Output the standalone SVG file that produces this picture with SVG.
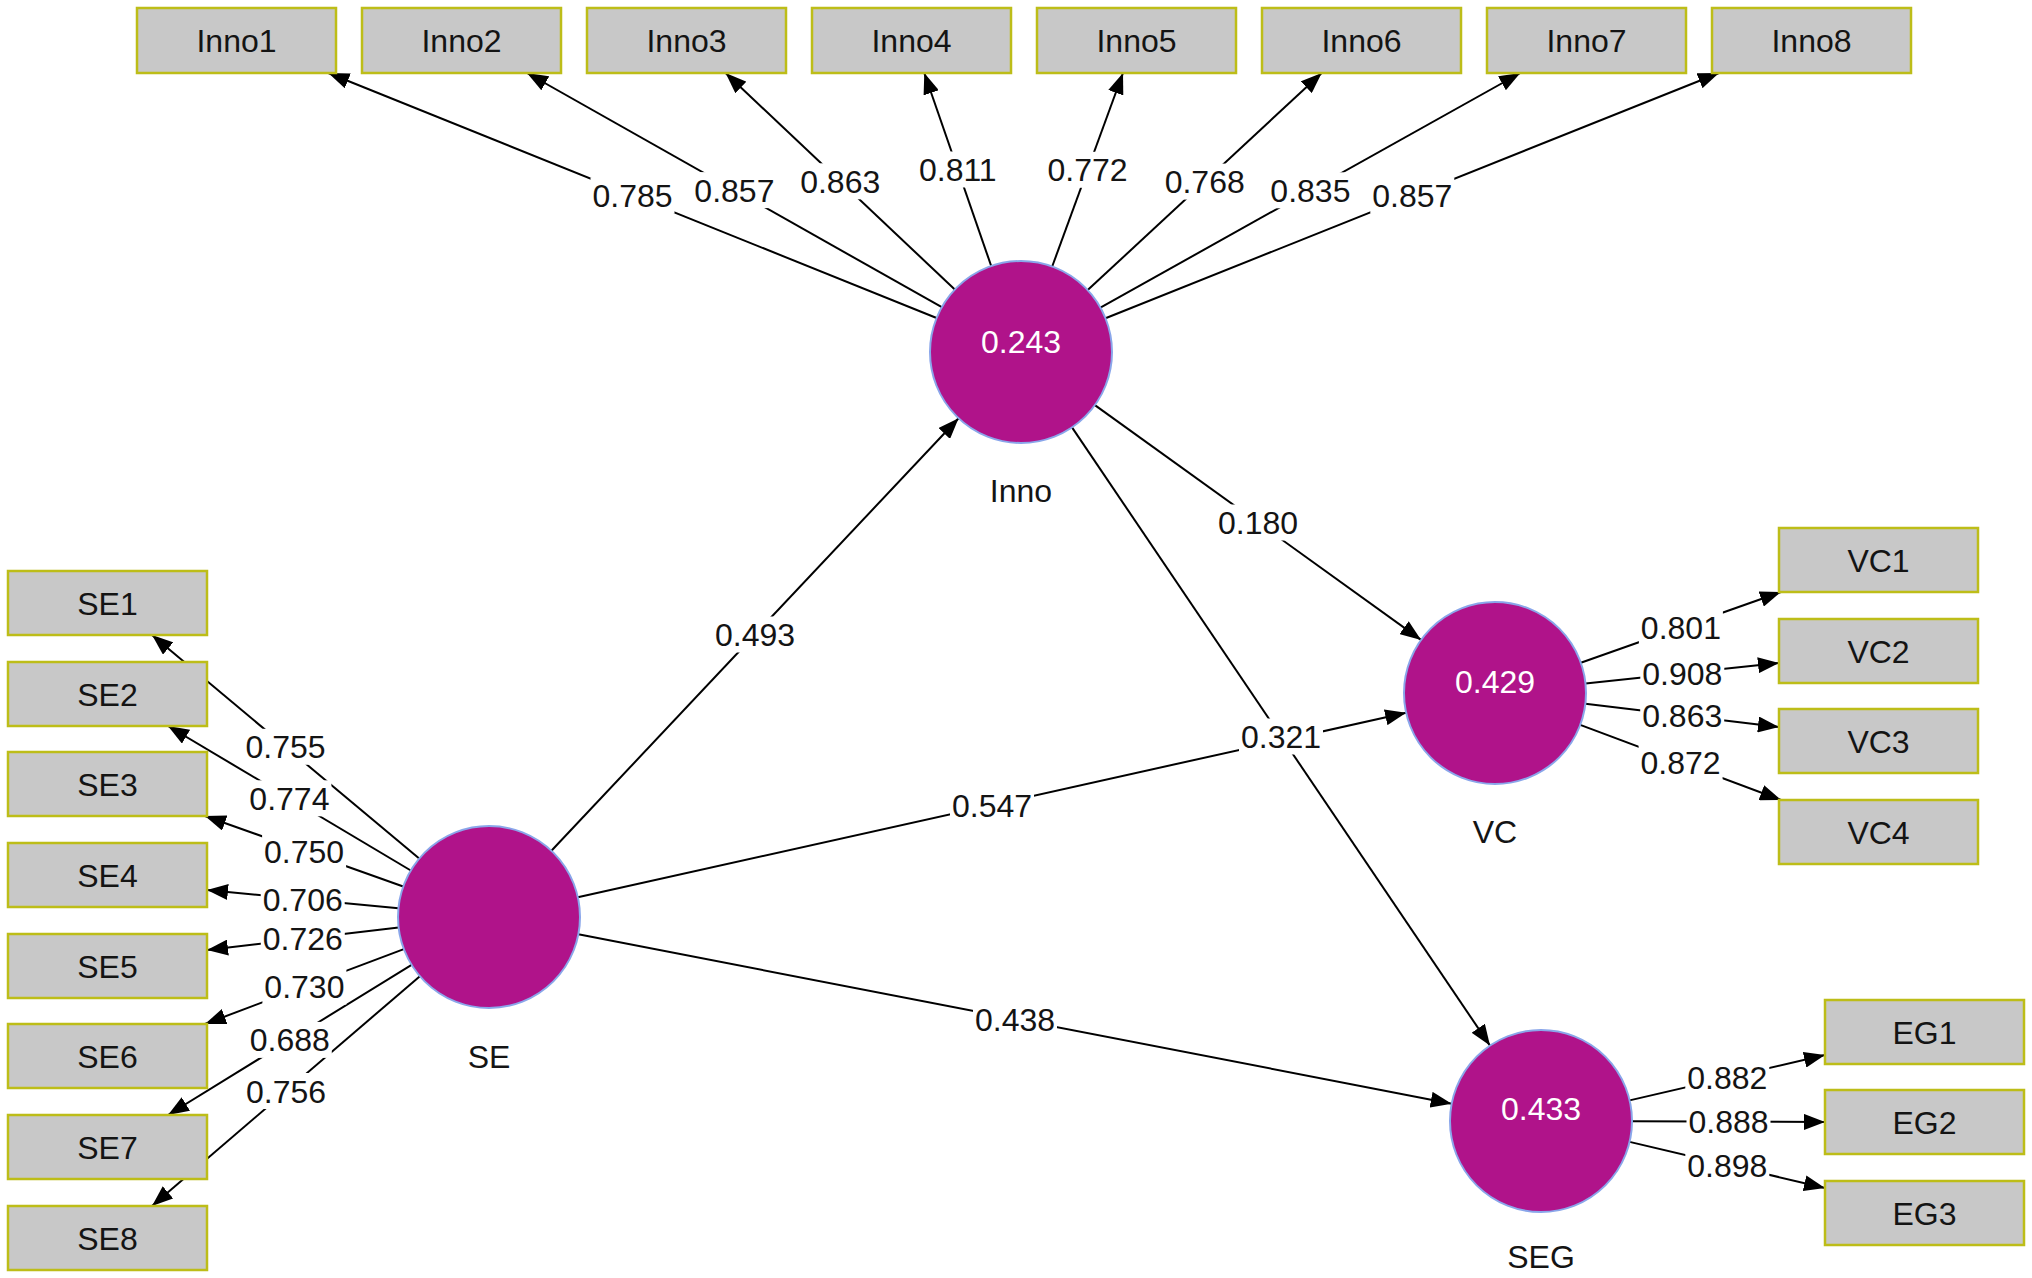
<svg xmlns="http://www.w3.org/2000/svg" width="2032" height="1278" viewBox="0 0 2032 1278">
<style>
.box{fill:#c8c8c8;stroke:#bdbd18;stroke-width:2.5}
.lv{fill:#b0138a;stroke:#8aa6ea;stroke-width:2}
.t{font-family:"Liberation Sans Narrow","Liberation Sans",Arial,sans-serif;font-size:32px;text-anchor:middle;fill:#141414}
.v{fill:#ffffff}
.c{stroke:#000;stroke-width:2;fill:none;marker-end:url(#ah)}
.bg{fill:#ffffff}
</style>
<defs>
<marker id="ah" markerUnits="userSpaceOnUse" markerWidth="21" markerHeight="16" viewBox="0 0 21 16" refX="21" refY="8" orient="auto"><path d="M0,0 L21,8 L0,16 z" fill="#000"/></marker>
</defs>
<rect width="2032" height="1278" fill="#ffffff"/>
<g id="connectors">
<path class="c" d="M936.6,318 L328.3,73"/>
<path class="c" d="M941.8,307.2 L527,73"/>
<path class="c" d="M954.8,289.5 L725.6,73"/>
<path class="c" d="M991.2,266 L924.3,73"/>
<path class="c" d="M1052.2,266.5 L1123,73"/>
<path class="c" d="M1087.7,290.1 L1321.7,73"/>
<path class="c" d="M1100.4,307.6 L1520.3,73"/>
<path class="c" d="M1105.5,318.2 L1719,73"/>
<path class="c" d="M419.2,858.6 L152,635"/>
<path class="c" d="M410.8,870.5 L168,726"/>
<path class="c" d="M403.2,886.5 L205,816"/>
<path class="c" d="M398.4,908.3 L207,890"/>
<path class="c" d="M398.6,927.6 L207,950"/>
<path class="c" d="M403.8,949.1 L205,1024"/>
<path class="c" d="M411.6,964.8 L168,1115"/>
<path class="c" d="M419.9,976.2 L152,1206"/>
<path class="c" d="M1580.8,662.7 L1781,592"/>
<path class="c" d="M1585.5,683.4 L1779,663"/>
<path class="c" d="M1585.4,703.8 L1779,727"/>
<path class="c" d="M1580.2,724.9 L1781,800"/>
<path class="c" d="M1629.6,1100.4 L1825,1055"/>
<path class="c" d="M1632,1121.3 L1825,1122"/>
<path class="c" d="M1629.6,1141.9 L1825,1188"/>
<path class="c" d="M551.4,850.8 L958.6,418.2"/>
<path class="c" d="M577.8,897.2 L1406.2,712.8"/>
<path class="c" d="M578.3,934.3 L1451.7,1103.7"/>
<path class="c" d="M1094.9,405.1 L1421.1,639.9"/>
<path class="c" d="M1072,427.4 L1490,1045.6"/>
</g>
<g id="connector-labels">
<rect class="bg" x="590.5" y="177.5" width="84" height="36"/><text class="t" x="632.5" y="207">0.785</text>
<rect class="bg" x="692.4" y="172.1" width="84" height="36"/><text class="t" x="734.4" y="201.6">0.857</text>
<rect class="bg" x="798.2" y="163.3" width="84" height="36"/><text class="t" x="840.2" y="192.8">0.863</text>
<rect class="bg" x="915.8" y="151.5" width="84" height="36"/><text class="t" x="957.8" y="181">0.811</text>
<rect class="bg" x="1045.6" y="151.8" width="84" height="36"/><text class="t" x="1087.6" y="181.3">0.772</text>
<rect class="bg" x="1162.7" y="163.6" width="84" height="36"/><text class="t" x="1204.7" y="193.1">0.768</text>
<rect class="bg" x="1268.4" y="172.3" width="84" height="36"/><text class="t" x="1310.4" y="201.8">0.835</text>
<rect class="bg" x="1370.3" y="177.6" width="84" height="36"/><text class="t" x="1412.3" y="207.1">0.857</text>
<rect class="bg" x="243.6" y="728.8" width="84" height="36"/><text class="t" x="285.6" y="758.3">0.755</text>
<rect class="bg" x="247.4" y="780.3" width="84" height="36"/><text class="t" x="289.4" y="809.8">0.774</text>
<rect class="bg" x="262.1" y="833.3" width="84" height="36"/><text class="t" x="304.1" y="862.8">0.750</text>
<rect class="bg" x="260.7" y="881.2" width="84" height="36"/><text class="t" x="302.7" y="910.7">0.706</text>
<rect class="bg" x="260.8" y="920.8" width="84" height="36"/><text class="t" x="302.8" y="950.3">0.726</text>
<rect class="bg" x="262.4" y="968.6" width="84" height="36"/><text class="t" x="304.4" y="998.1">0.730</text>
<rect class="bg" x="247.8" y="1021.9" width="84" height="36"/><text class="t" x="289.8" y="1051.4">0.688</text>
<rect class="bg" x="244" y="1073" width="84" height="36"/><text class="t" x="286" y="1102.5">0.756</text>
<rect class="bg" x="1638.9" y="609.4" width="84" height="36"/><text class="t" x="1680.9" y="638.9">0.801</text>
<rect class="bg" x="1640.3" y="655.2" width="84" height="36"/><text class="t" x="1682.3" y="684.7">0.908</text>
<rect class="bg" x="1640.2" y="697.4" width="84" height="36"/><text class="t" x="1682.2" y="726.9">0.863</text>
<rect class="bg" x="1638.6" y="744.5" width="84" height="36"/><text class="t" x="1680.6" y="774">0.872</text>
<rect class="bg" x="1685.3" y="1059.7" width="84" height="36"/><text class="t" x="1727.3" y="1089.2">0.882</text>
<rect class="bg" x="1686.5" y="1103.7" width="84" height="36"/><text class="t" x="1728.5" y="1133.2">0.888</text>
<rect class="bg" x="1685.3" y="1147" width="84" height="36"/><text class="t" x="1727.3" y="1176.5">0.898</text>
<rect class="bg" x="713" y="616.5" width="84" height="36"/><text class="t" x="755" y="646">0.493</text>
<rect class="bg" x="950" y="787" width="84" height="36"/><text class="t" x="992" y="816.5">0.547</text>
<rect class="bg" x="973" y="1001" width="84" height="36"/><text class="t" x="1015" y="1030.5">0.438</text>
<rect class="bg" x="1216" y="504.5" width="84" height="36"/><text class="t" x="1258" y="534">0.180</text>
<rect class="bg" x="1239" y="718.5" width="84" height="36"/><text class="t" x="1281" y="748">0.321</text>
</g>
<g id="Inno"><circle class="lv" cx="1021" cy="352" r="91"/><text class="t v" x="1021" y="353">0.243</text><text class="t" x="1021" y="502">Inno</text></g>
<g id="SE"><circle class="lv" cx="489" cy="917" r="91"/><text class="t" x="489" y="1068">SE</text></g>
<g id="VC"><circle class="lv" cx="1495" cy="693" r="91"/><text class="t v" x="1495" y="693">0.429</text><text class="t" x="1495" y="843">VC</text></g>
<g id="SEG"><circle class="lv" cx="1541" cy="1121" r="91"/><text class="t v" x="1541" y="1120">0.433</text><text class="t" x="1541" y="1268">SEG</text></g>
<g id="Inno1"><rect class="box" x="137" y="8" width="199" height="65"/><text class="t" x="236.5" y="52">Inno1</text></g>
<g id="Inno2"><rect class="box" x="362" y="8" width="199" height="65"/><text class="t" x="461.5" y="52">Inno2</text></g>
<g id="Inno3"><rect class="box" x="587" y="8" width="199" height="65"/><text class="t" x="686.5" y="52">Inno3</text></g>
<g id="Inno4"><rect class="box" x="812" y="8" width="199" height="65"/><text class="t" x="911.5" y="52">Inno4</text></g>
<g id="Inno5"><rect class="box" x="1037" y="8" width="199" height="65"/><text class="t" x="1136.5" y="52">Inno5</text></g>
<g id="Inno6"><rect class="box" x="1262" y="8" width="199" height="65"/><text class="t" x="1361.5" y="52">Inno6</text></g>
<g id="Inno7"><rect class="box" x="1487" y="8" width="199" height="65"/><text class="t" x="1586.5" y="52">Inno7</text></g>
<g id="Inno8"><rect class="box" x="1712" y="8" width="199" height="65"/><text class="t" x="1811.5" y="52">Inno8</text></g>
<g id="SE1"><rect class="box" x="8" y="571" width="199" height="64"/><text class="t" x="107.5" y="614.5">SE1</text></g>
<g id="SE2"><rect class="box" x="8" y="662" width="199" height="64"/><text class="t" x="107.5" y="705.5">SE2</text></g>
<g id="SE3"><rect class="box" x="8" y="752" width="199" height="64"/><text class="t" x="107.5" y="795.5">SE3</text></g>
<g id="SE4"><rect class="box" x="8" y="843" width="199" height="64"/><text class="t" x="107.5" y="886.5">SE4</text></g>
<g id="SE5"><rect class="box" x="8" y="934" width="199" height="64"/><text class="t" x="107.5" y="977.5">SE5</text></g>
<g id="SE6"><rect class="box" x="8" y="1024" width="199" height="64"/><text class="t" x="107.5" y="1067.5">SE6</text></g>
<g id="SE7"><rect class="box" x="8" y="1115" width="199" height="64"/><text class="t" x="107.5" y="1158.5">SE7</text></g>
<g id="SE8"><rect class="box" x="8" y="1206" width="199" height="64"/><text class="t" x="107.5" y="1249.5">SE8</text></g>
<g id="VC1"><rect class="box" x="1779" y="528" width="199" height="64"/><text class="t" x="1878.5" y="571.5">VC1</text></g>
<g id="VC2"><rect class="box" x="1779" y="619" width="199" height="64"/><text class="t" x="1878.5" y="662.5">VC2</text></g>
<g id="VC3"><rect class="box" x="1779" y="709" width="199" height="64"/><text class="t" x="1878.5" y="752.5">VC3</text></g>
<g id="VC4"><rect class="box" x="1779" y="800" width="199" height="64"/><text class="t" x="1878.5" y="843.5">VC4</text></g>
<g id="EG1"><rect class="box" x="1825" y="1000" width="199" height="64"/><text class="t" x="1924.5" y="1043.5">EG1</text></g>
<g id="EG2"><rect class="box" x="1825" y="1090" width="199" height="64"/><text class="t" x="1924.5" y="1133.5">EG2</text></g>
<g id="EG3"><rect class="box" x="1825" y="1181" width="199" height="64"/><text class="t" x="1924.5" y="1224.5">EG3</text></g>
</svg>
